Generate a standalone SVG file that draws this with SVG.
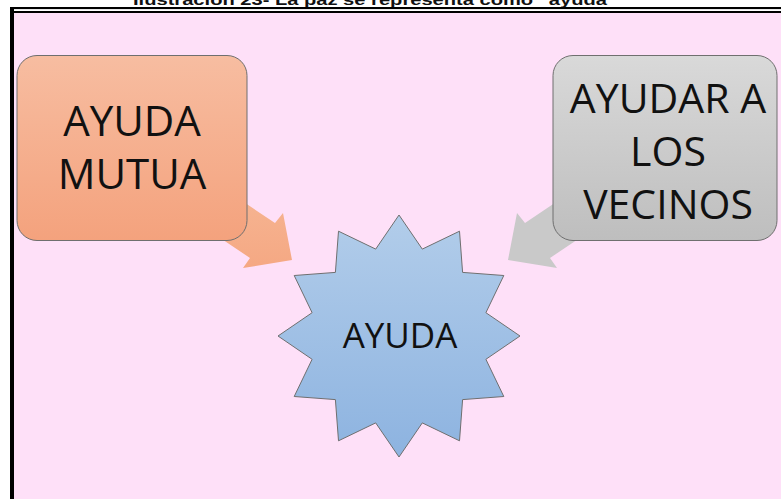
<svg xmlns="http://www.w3.org/2000/svg" width="781" height="499" viewBox="0 0 781 499">
  <defs>
    <linearGradient id="gOrange" x1="0" y1="0" x2="0" y2="1">
      <stop offset="0" stop-color="#F7BDA1"/>
      <stop offset="1" stop-color="#F4A27D"/>
    </linearGradient>
    <linearGradient id="gGray" x1="0" y1="0" x2="0" y2="1">
      <stop offset="0" stop-color="#D9D9D9"/>
      <stop offset="1" stop-color="#BEBEBE"/>
    </linearGradient>
    <linearGradient id="gBlue" x1="0" y1="0" x2="0" y2="1">
      <stop offset="0" stop-color="#B2CDEA"/>
      <stop offset="1" stop-color="#8DB3E0"/>
    </linearGradient>
    <linearGradient id="gArrowO" x1="0" y1="0" x2="0" y2="1">
      <stop offset="0" stop-color="#F6B694"/>
      <stop offset="1" stop-color="#F5A883"/>
    </linearGradient>
    <style>
      .lbl { font-family: "Open Sans", "Liberation Sans", sans-serif; fill: #111; text-anchor: middle; }
      .box { stroke: #6F6F6F; stroke-width: 1; }
      .cap { font-family: "Liberation Sans", "Open Sans", sans-serif; font-weight: bold; fill: #111; font-size: 15px; }
    </style>
  </defs>

  <!-- background and frame -->
  <rect x="0" y="0" width="781" height="499" fill="#FFFFFF"/>
  <text class="cap" x="133" y="4.5" textLength="484" lengthAdjust="spacingAndGlyphs">Ilustración 23- La paz se representa como “ayuda”</text>
  <rect x="12" y="11" width="769" height="488" fill="#FEE0F8"/>
  <rect x="10" y="7" width="771" height="2.3" fill="#000"/>
  <rect x="12" y="9.3" width="769" height="1.7" fill="#FFF"/>
  <rect x="12" y="11" width="769" height="2" fill="#000"/>
  <rect x="10" y="7" width="4" height="492" fill="#000"/>

  <!-- connectors -->
  <g id="connectors">
    <polygon points="217,184 275,223 283,213 292,260 243,268 250,258 192,219" fill="url(#gArrowO)"/>
    <polygon points="583,184 525,223 517,213 508,260 557,268 550,258 608,219" fill="#C9C9C9"/>
  </g>

  <g id="node-ayuda-mutua">
    <rect class="box" x="17" y="55.5" width="230" height="185" rx="20" ry="20" fill="url(#gOrange)"/>
    <text class="lbl" x="132" y="136" font-size="42">AYUDA</text>
    <text class="lbl" x="132" y="189" font-size="42">MUTUA</text>
  </g>

  <g id="node-ayudar-vecinos">
    <rect class="box" x="553" y="55.5" width="224" height="185" rx="20" ry="20" fill="url(#gGray)"/>
    <text class="lbl" x="668" y="113" font-size="41">AYUDAR A</text>
    <text class="lbl" x="668" y="166" font-size="41">LOS</text>
    <text class="lbl" x="668" y="219" font-size="41">VECINOS</text>
  </g>

  <g id="node-ayuda">
    <polygon class="box" stroke="#5C6B7C" fill="url(#gBlue)" points="399,215 375.7,249.1 338.5,231.2 335.4,272.4 294.2,275.5 312.1,312.7 278,336 312.1,359.3 294.2,396.5 335.4,399.6 338.5,440.8 375.7,422.9 399,457 422.3,422.9 459.5,440.8 462.6,399.6 503.8,396.5 485.9,359.3 520,336 485.9,312.7 503.8,275.5 462.6,272.4 459.5,231.2 422.3,249.1"/>
    <text class="lbl" x="400" y="348" font-size="35">AYUDA</text>
  </g>
</svg>
